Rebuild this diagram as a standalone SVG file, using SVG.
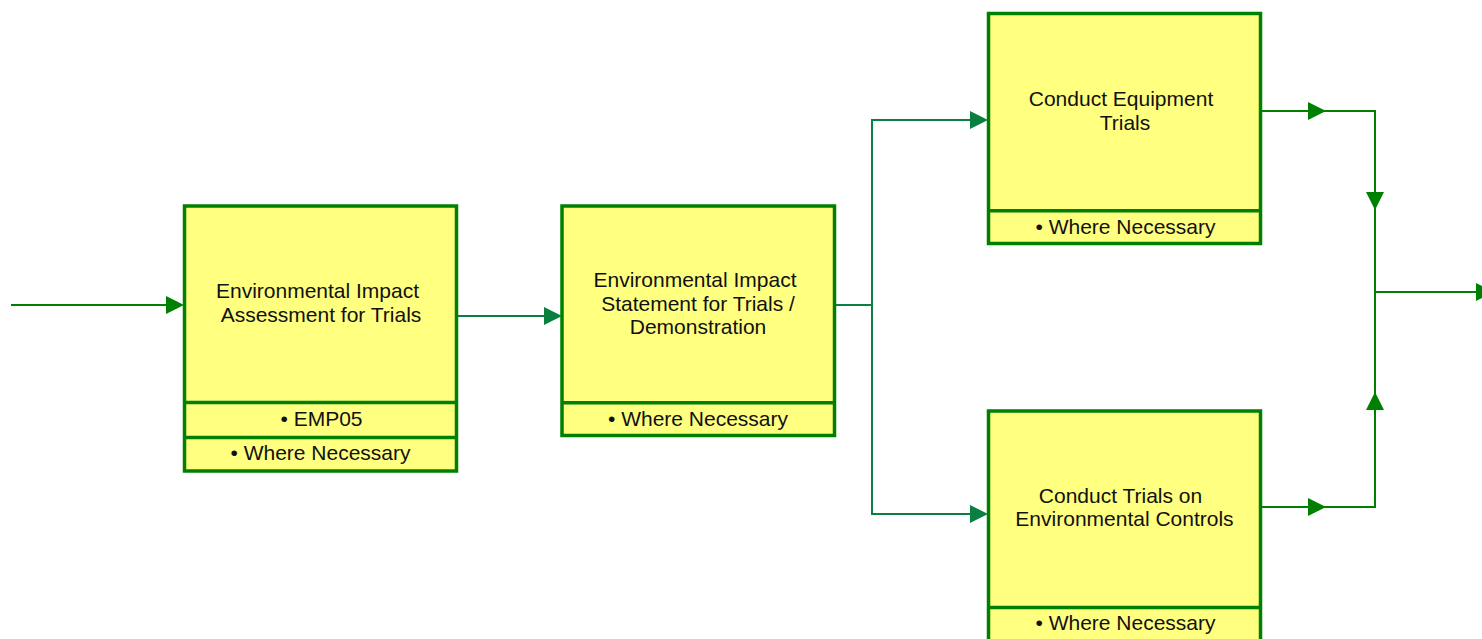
<svg xmlns="http://www.w3.org/2000/svg" xmlns:xlink="http://www.w3.org/1999/xlink" width="1482" height="639" viewBox="0 0 1482 639">
  <style>
    .box { fill: #ffff80; stroke: #008000; stroke-width: 3.5; }
    .div { stroke: #008000; stroke-width: 3.5; }
    .title { font-family: "Liberation Sans", Arial, sans-serif; font-size: 21px; fill: #111; text-anchor: middle; }
    .note { font-family: "Liberation Sans", Arial, sans-serif; font-size: 21px; fill: #111; text-anchor: middle; }
    .wire { fill: none; stroke: #008000; stroke-width: 2; }
    .wire-t { fill: none; stroke: #0a8040; stroke-width: 2; }
    .head { fill: #008000; }
    .head-t { fill: #0a8040; }
  </style>
  <defs>
    <!-- arrowhead pointing along +x, tip at origin -->
    <path id="ah" d="M-18,-9 L0,0 L-18,9 Z"/>
  </defs>

  <rect width="1482" height="639" fill="#ffffff"/>

  <!-- connectors -->
  <g id="connectors">
    <!-- incoming flow -->
    <line class="wire" x1="11" y1="305" x2="170" y2="305"/>
    <use href="#ah" class="head" transform="translate(184,305)"/>

    <!-- assessment to statement -->
    <line class="wire-t" x1="457" y1="316" x2="547" y2="316"/>
    <use href="#ah" class="head-t" transform="translate(562,316)"/>

    <!-- statement fans out to both trials -->
    <polyline class="wire-t" points="834,305 872,305"/>
    <polyline class="wire-t" points="974,120 872,120 872,514 974,514"/>
    <use href="#ah" class="head-t" transform="translate(988,120)"/>
    <use href="#ah" class="head-t" transform="translate(988,514)"/>

    <!-- trials merge to the output -->
    <polyline class="wire" points="1261,111 1375,111 1375,507 1261,507"/>
    <use href="#ah" class="head" transform="translate(1326,111)"/>
    <use href="#ah" class="head" transform="translate(1326,507)"/>
    <use href="#ah" class="head" transform="translate(1375,210) rotate(90)"/>
    <use href="#ah" class="head" transform="translate(1375,392) rotate(-90)"/>
    <line class="wire" x1="1375" y1="292" x2="1480" y2="292"/>
    <use href="#ah" class="head" transform="translate(1494,292)"/>
  </g>

  <!-- Environmental Impact Assessment for Trials -->
  <g id="eia-assessment">
    <rect class="box" x="184.5" y="206" width="272" height="265"/>
    <line class="div" x1="184.5" y1="402.5" x2="456.5" y2="402.5"/>
    <line class="div" x1="184.5" y1="437.5" x2="456.5" y2="437.5"/>
    <text class="title" x="317.5" y="298">Environmental Impact</text>
    <text class="title" x="321" y="321.5">Assessment for Trials</text>
    <text class="note" x="321.5" y="425.5">• EMP05</text>
    <text class="note" x="320.5" y="460">• Where Necessary</text>
  </g>

  <!-- Environmental Impact Statement for Trials / Demonstration -->
  <g id="eis-trials">
    <rect class="box" x="562" y="206" width="272.5" height="229.5"/>
    <line class="div" x1="562" y1="402.8" x2="834.5" y2="402.8"/>
    <text class="title" x="695" y="287">Environmental Impact</text>
    <text class="title" x="698" y="310.5">Statement for Trials /</text>
    <text class="title" x="698" y="334">Demonstration</text>
    <text class="note" x="698" y="425.5">• Where Necessary</text>
  </g>

  <!-- Conduct Equipment Trials -->
  <g id="equipment-trials">
    <rect class="box" x="988.5" y="13.5" width="272" height="230"/>
    <line class="div" x1="988.5" y1="210.8" x2="1260.5" y2="210.8"/>
    <text class="title" x="1121" y="106">Conduct Equipment</text>
    <text class="title" x="1125" y="129.5">Trials</text>
    <text class="note" x="1125.5" y="234">• Where Necessary</text>
  </g>

  <!-- Conduct Trials on Environmental Controls -->
  <g id="controls-trials">
    <rect class="box" x="988.5" y="411" width="272" height="232"/>
    <line class="div" x1="988.5" y1="607.5" x2="1260.5" y2="607.5"/>
    <text class="title" x="1120.5" y="503">Conduct Trials on</text>
    <text class="title" x="1124.5" y="526">Environmental Controls</text>
    <text class="note" x="1125.5" y="630">• Where Necessary</text>
  </g>
</svg>
